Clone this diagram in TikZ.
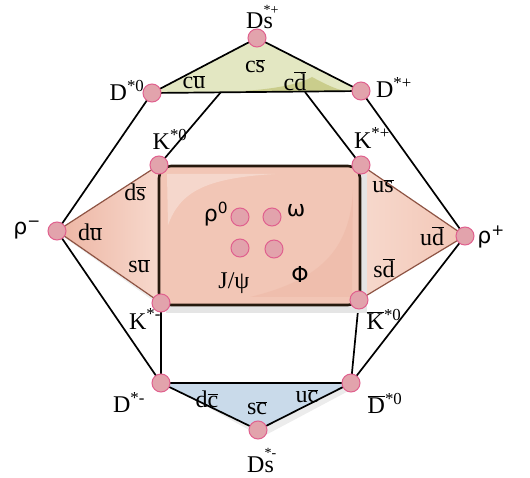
\documentclass[tikz,border=0pt]{standalone}
\usepackage{fontspec}
\setmainfont{Liberation Serif}
\newfontfamily\gk{DejaVu Sans}
\newcommand\ob[1]{\ensuremath{\overline{\mbox{#1}}}}
\newcommand\dsl[1]{D\rlap{\raisebox{0.6em}{\fontsize{14}{14}\selectfont#1}}s}
\definecolor{topfill}{HTML}{E3E7C2}
\definecolor{topdark}{HTML}{CACD8C}
\definecolor{botfill}{HTML}{C9DAEA}
\definecolor{salm}{HTML}{F2C6B6}
\definecolor{salmlt}{HTML}{F7D9CD}
\definecolor{salmdk}{HTML}{EDB5A3}
\definecolor{rim}{HTML}{8E5444}
\definecolor{dotfill}{HTML}{E2A3AC}
\definecolor{dotrim}{HTML}{E0608E}
\tikzset{
  pt/.style={circle, fill=dotfill, draw=dotrim, line width=1pt, minimum size=18pt, inner sep=0pt},
  lbl/.style={font=\fontsize{24}{26}\selectfont, inner sep=0pt},
  glbl/.style={font=\gk\fontsize{22}{24}\selectfont, inner sep=0pt},
  qk/.style={font=\fontsize{24}{26}\selectfont, inner sep=0pt},
  edge/.style={line width=1.7pt, black},
}
\begin{document}
\begin{tikzpicture}[x=1pt,y=-1pt]
\useasboundingbox (0,0) rectangle (530,478);
% coordinates of mesons
\coordinate (dsp) at (257,38);
\coordinate (d0) at (152,93);
\coordinate (dp) at (361,91);
\coordinate (k0) at (159,165);
\coordinate (kp) at (361,165);
\coordinate (rm) at (57,231);
\coordinate (rp) at (465,236);
\coordinate (km) at (161,303);
\coordinate (kb0) at (359,300);
\coordinate (dm) at (161,383);
\coordinate (db0) at (351,383);
\coordinate (dsm) at (258,430);
\coordinate (tb1) at (221,92);
\coordinate (tb2) at (305,92);
% outer connectors
\draw[edge] (d0) -- (rm) -- (dm);
\draw[edge] (dp) -- (rp) -- (db0);
\draw[edge] (k0) -- (tb1);
\draw[edge] (kp) -- (tb2);
\draw[edge] (km) -- (dm);
\draw[edge] (kb0) -- (db0);
% top triangle
\fill[topfill] (d0) -- (dsp) -- (dp) -- cycle;
\fill[topdark] (243,91) .. controls (275,89) and (300,84) .. (312,77) .. controls (325,84) and (335,89) .. (345,91) -- cycle;
\draw[edge] (d0) -- (dsp) -- (dp) -- cycle;
% bottom triangle
\fill[gray!30, opacity=0.5] (171,387) -- (262,437) -- (356,387) -- cycle;
\fill[botfill] (dm) -- (dsm) -- (db0) -- cycle;
\draw[edge] (dm) -- (dsm) -- (db0) -- cycle;
% side triangles
\fill[gray!25, opacity=0.6] (rm) ++(4,4) -- (165,309) -- (165,170) -- cycle;
\shade[left color=salmdk, right color=salmlt] (rm) -- (k0) -- (km) -- cycle;
\draw[rim, line width=1.2pt] (rm) -- (k0) -- (km) -- cycle;
\shade[left color=salmlt, right color=salm] (rp) -- (kp) -- (kb0) -- cycle;
\draw[rim, line width=1.2pt] (rp) -- (kp) -- (kb0) -- cycle;
% central box
\fill[gray!20] (166,174) rectangle (367,313);
\draw[line width=2.6pt, draw=black!80!brown, fill=salm, rounded corners=12pt] (159,166) rectangle (360,305);
\fill[white, opacity=0.3] (167,174) -- (275,174) .. controls (205,178) and (180,192) .. (168,225) -- cycle;
\fill[salmdk, opacity=0.45] (353,190) .. controls (350,250) and (320,280) .. (250,297) -- (352,297) -- cycle;
% nodes
\node[pt] (Ndsp) at (dsp) {};
\node[pt] (Nd0) at (d0) {};
\node[pt] (Ndp) at (dp) {};
\node[pt] (Nk0) at (k0) {};
\node[pt] (Nkp) at (kp) {};
\node[pt] (Nrm) at (rm) {};
\node[pt] (Nrp) at (rp) {};
\node[pt] (Nkm) at (km) {};
\node[pt] (Nkb0) at (kb0) {};
\node[pt] (Ndm) at (dm) {};
\node[pt] (Ndb0) at (db0) {};
\node[pt] (Ndsm) at (dsm) {};
\node[pt] (Nrho) at (240,217) {};
\node[pt] (Nom) at (272,217) {};
\node[pt] (Njp) at (240,248) {};
\node[pt] (Nphi) at (274,249) {};
% labels
\node[lbl, anchor=base west] (Ldsp) at (246,29) {\dsl{*+}};
\node[lbl] (Ld0) at (127,90) {D\textsuperscript{*0}};
\node[lbl] (Ldp) at (394,88) {D\textsuperscript{*+}};
\node[lbl] (Lk0) at (170,139) {K\textsuperscript{*0}};
\node[lbl] (Lkp) at (372,138) {K\textsuperscript{*+}};
\node[glbl] (Lrm) at (27,230) {ρ\textsuperscript{−}};
\node[glbl] (Lrp) at (491,237) {ρ\textsuperscript{+}};
\node[lbl] (Lkm) at (145,319) {K\textsuperscript{*-}};
\node[lbl] (Lkb0) at (384,319) {\ob{K}\textsuperscript{*0}};
\node[lbl] (Ldm) at (129,403) {D\textsuperscript{*-}};
\node[lbl] (Ldb0) at (385,403) {\ob{D}\textsuperscript{*0}};
\node[lbl, anchor=base west] (Ldsm) at (247,472) {\dsl{*-}};
% quark content
\node[qk] (Qcs) at (255,66) {c\ob{s}};
\node[qk] (Qcu) at (194,82) {c\ob{u}};
\node[qk] (Qcd) at (295,81) {c\ob{d}};
\node[qk] (Qds) at (135,192) {d\ob{s}};
\node[qk] (Qsu) at (139,266) {s\ob{u}};
\node[qk] (Qdu) at (90,232) {d\ob{u}};
\node[qk] (Qus) at (383,186) {u\ob{s}};
\node[qk] (Qsd) at (384,268) {s\ob{d}};
\node[qk] (Qud) at (432,236) {u\ob{d}};
\node[qk] (Qdc) at (207,399) {d\ob{c}};
\node[qk] (Qsc) at (257,408) {s\ob{c}};
\node[qk] (Quc) at (307,396) {u\ob{c}};
% central states
\node[glbl] (Lrho) at (216,214) {ρ\textsuperscript{0}};
\node[glbl] (Lom) at (296,211) {ω};
\node[lbl] (Ljp) at (234,283) {J/ψ};
\node[glbl] (Lphi) at (300,274) {Φ};
\end{tikzpicture}
\end{document}
